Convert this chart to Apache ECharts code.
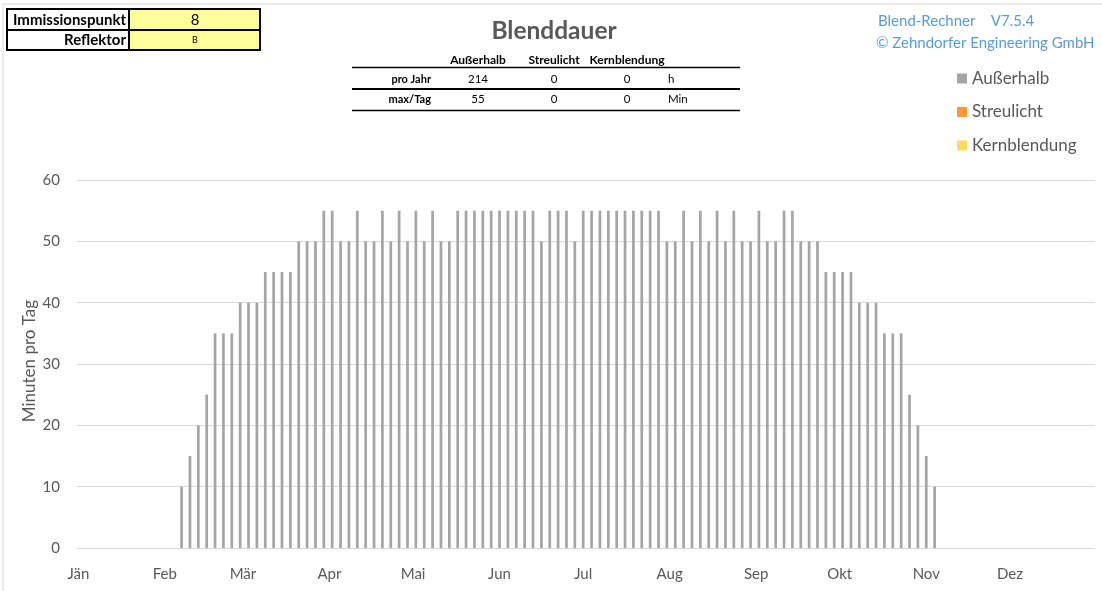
<!DOCTYPE html>
<html>
<head>
<meta charset="utf-8">
<title>Blenddauer</title>
<script src="https://cdn.jsdelivr.net/npm/echarts@6/dist/echarts.min.js"></script>
<style>
  html, body { margin: 0; padding: 0; background: #ffffff; }
  #chart { width: 1102px; height: 591px; }
</style>
</head>
<body>
<div id="chart"></div>
<script>
// Month names on the date axis and the month lengths of the year (365 days)
const monthLabels = ['Jän', 'Feb', 'Mär', 'Apr', 'Mai', 'Jun', 'Jul', 'Aug', 'Sep', 'Okt', 'Nov', 'Dez'];
const monthLengths = [31, 28, 31, 30, 31, 30, 31, 31, 30, 31, 30, 31];

// Sampled days (month-day) with glare duration outside the core, minutes per day
const sampleDays = [
  '02-07', '02-10', '02-13', '02-16', '02-19', '02-22', '02-25', '02-28',
  '03-03', '03-06', '03-09', '03-12', '03-15', '03-18', '03-21', '03-24', '03-27', '03-30',
  '04-02', '04-05', '04-08', '04-11', '04-14', '04-17', '04-20', '04-23', '04-26', '04-29',
  '05-02', '05-05', '05-08', '05-11', '05-14', '05-17', '05-20', '05-23', '05-26', '05-29',
  '06-01', '06-04', '06-07', '06-10', '06-13', '06-16', '06-19', '06-22', '06-25', '06-28',
  '07-01', '07-04', '07-07', '07-10', '07-13', '07-16', '07-19', '07-22', '07-25', '07-28', '07-31',
  '08-03', '08-06', '08-09', '08-12', '08-15', '08-18', '08-21', '08-24', '08-27', '08-30',
  '09-02', '09-05', '09-08', '09-11', '09-14', '09-17', '09-20', '09-23', '09-26', '09-29',
  '10-02', '10-05', '10-08', '10-11', '10-14', '10-17', '10-20', '10-23', '10-26', '10-29',
  '11-01', '11-04'
];
const ausserhalbMin = [
  10, 15, 20, 25, 35, 35, 35, 40,
  40, 40, 45, 45, 45, 45, 50, 50, 50, 55,
  55, 50, 50, 55, 50, 50, 55, 50, 55, 50,
  55, 50, 55, 50, 50, 55, 55, 55, 55, 55,
  55, 55, 55, 55, 55, 50, 55, 55, 55, 50,
  55, 55, 55, 55, 55, 55, 55, 55, 55, 55, 50,
  50, 55, 50, 55, 50, 55, 50, 55, 50, 50,
  55, 50, 50, 55, 55, 50, 50, 50, 45, 45,
  45, 45, 40, 40, 40, 35, 35, 35, 25, 20,
  15, 10
];
// Scattered light and core glare: no occurrences this year
const streulichtMin = [];
const kernblendungMin = [];

// Summary table figures
const summaryHeaders = ['Außerhalb', 'Streulicht', 'Kernblendung'];
const summaryRows = [
  { label: 'pro Jahr', values: ['214', '0', '0'], unit: 'h' },
  { label: 'max/Tag', values: ['55', '0', '0'], unit: 'Min' }
];

// Y axis scale
const yMin = 0, yMax = 60, yStep = 10;

// One category per calendar day
const dayCategories = [];
monthLengths.forEach((len, m) => {
  for (let d = 1; d <= len; d++) {
    dayCategories.push(String(m + 1).padStart(2, '0') + '-' + String(d).padStart(2, '0'));
  }
});
const ausserhalbSeries = dayCategories.map(() => null);
sampleDays.forEach((day, i) => {
  ausserhalbSeries[dayCategories.indexOf(day)] = ausserhalbMin[i];
});

const FONT = 'Lato, "Open Sans", sans-serif';
const TXT = '#595959';

// Header table (measurement point / reflector)
const infoTable = [
  { type: 'rect', shape: { x: 129, y: 9, width: 131, height: 41 }, style: { fill: '#FFFF99' }, silent: true },
  { type: 'rect', shape: { x: 7, y: 9, width: 253, height: 41 }, style: { fill: null, stroke: '#000', lineWidth: 2 }, silent: true },
  { type: 'line', shape: { x1: 7, y1: 30, x2: 260, y2: 30 }, style: { stroke: '#000', lineWidth: 2 }, silent: true },
  { type: 'line', shape: { x1: 129, y1: 9, x2: 129, y2: 50 }, style: { stroke: '#000', lineWidth: 2 }, silent: true },
  { type: 'text', x: 126, y: 20, style: { text: 'Immissionspunkt', font: 'bold 15px ' + FONT, fill: '#000', align: 'right', verticalAlign: 'middle' }, silent: true },
  { type: 'text', x: 195, y: 20, style: { text: '8', font: '15px ' + FONT, fill: '#000', align: 'center', verticalAlign: 'middle' }, silent: true },
  { type: 'text', x: 126, y: 40, style: { text: 'Reflektor', font: 'bold 15px ' + FONT, fill: '#000', align: 'right', verticalAlign: 'middle' }, silent: true },
  { type: 'text', x: 195, y: 40.5, style: { text: 'B', font: '9px ' + FONT, fill: '#000', align: 'center', verticalAlign: 'middle' }, silent: true }
];

// Summary table under the title
const colX = [478, 554, 627];
const summaryGraphics = [];
summaryHeaders.forEach((h, i) => {
  summaryGraphics.push({ type: 'text', x: colX[i], y: 60, style: { text: h, font: 'bold 12px ' + FONT, fill: '#000', align: 'center', verticalAlign: 'middle' }, silent: true });
});
summaryGraphics.push({ type: 'line', shape: { x1: 352, y1: 67.5, x2: 740, y2: 67.5 }, style: { stroke: '#000', lineWidth: 1.5 }, silent: true });
summaryGraphics.push({ type: 'line', shape: { x1: 352, y1: 89, x2: 740, y2: 89 }, style: { stroke: '#000', lineWidth: 2 }, silent: true });
summaryGraphics.push({ type: 'line', shape: { x1: 352, y1: 110.5, x2: 740, y2: 110.5 }, style: { stroke: '#000', lineWidth: 1.5 }, silent: true });
summaryRows.forEach((row, r) => {
  const y = 79 + r * 20.5;
  summaryGraphics.push({ type: 'text', x: 431, y: y, style: { text: row.label, font: 'bold 11px ' + FONT, fill: '#000', align: 'right', verticalAlign: 'middle' }, silent: true });
  row.values.forEach((v, i) => {
    summaryGraphics.push({ type: 'text', x: colX[i], y: y, style: { text: v, font: '11.5px ' + FONT, fill: '#000', align: 'center', verticalAlign: 'middle' }, silent: true });
  });
  summaryGraphics.push({ type: 'text', x: 668, y: y, style: { text: row.unit, font: '11.5px ' + FONT, fill: '#000', align: 'left', verticalAlign: 'middle' }, silent: true });
});

// Version note, y axis title and chart-area frame
const frameGraphics = [
  { type: 'rect', shape: { x: 3, y: 4, width: 1120, height: 620 }, style: { fill: null, stroke: '#D9D9D9', lineWidth: 1 }, silent: true, z: -10 },
  { type: 'text', x: 878, y: 21, style: { text: 'Blend-Rechner    V7.5.4', font: '15px ' + FONT, fill: '#5B9BD5', align: 'left', verticalAlign: 'middle' }, silent: true },
  { type: 'text', x: 876, y: 43, style: { text: '© Zehndorfer Engineering GmbH', font: '15px ' + FONT, fill: '#5B9BD5', align: 'left', verticalAlign: 'middle' }, silent: true },
  { type: 'text', x: 30, y: 361, rotation: Math.PI / 2, style: { text: 'Minuten pro Tag', font: '17px ' + FONT, fill: TXT, align: 'center', verticalAlign: 'middle' }, silent: true }
];

const chart = echarts.init(document.getElementById('chart'), null, { renderer: 'canvas' });
chart.setOption({
  animation: false,
  backgroundColor: '#ffffff',
  textStyle: { fontFamily: FONT },
  title: {
    text: 'Blenddauer',
    left: 554, top: 19,
    padding: 0,
    textAlign: 'center',
    textStyle: { fontFamily: FONT, fontSize: 24.5, fontWeight: 'bold', color: TXT }
  },
  legend: {
    orient: 'vertical',
    left: 957, top: 70,
    padding: 0,
    itemWidth: 10, itemHeight: 10,
    itemGap: 16.5,
    icon: 'rect',
    textStyle: { fontFamily: FONT, fontSize: 17, color: TXT, lineHeight: 17 },
    data: ['Außerhalb', 'Streulicht', 'Kernblendung']
  },
  grid: { left: 77, right: 7, top: 180, bottom: 43, containLabel: false },
  xAxis: {
    type: 'category',
    data: dayCategories,
    boundaryGap: true,
    axisLine: { show: true, lineStyle: { color: '#D9D9D9', width: 1 } },
    axisTick: { show: false },
    axisLabel: {
      interval: (index, value) => value.slice(3) === '01',
      formatter: (value) => monthLabels[parseInt(value.slice(0, 2), 10) - 1],
      color: TXT, fontFamily: FONT, fontSize: 15, margin: 19
    },
    splitLine: { show: false }
  },
  yAxis: {
    type: 'value',
    min: yMin, max: yMax, interval: yStep,
    axisLine: { show: false },
    axisTick: { show: false },
    axisLabel: { color: TXT, fontFamily: FONT, fontSize: 15, margin: 17 },
    splitLine: { lineStyle: { color: '#D9D9D9', width: 1 } }
  },
  series: [
    {
      name: 'Außerhalb', type: 'bar', stack: 'glare',
      data: ausserhalbSeries, barWidth: 2.7,
      itemStyle: { color: '#A5A5A5' }
    },
    {
      name: 'Streulicht', type: 'bar', stack: 'glare',
      data: streulichtMin, barWidth: 2.7,
      itemStyle: { color: '#FF9933' }
    },
    {
      name: 'Kernblendung', type: 'bar', stack: 'glare',
      data: kernblendungMin, barWidth: 2.7,
      itemStyle: { color: '#FFD966' }
    }
  ],
  graphic: [...frameGraphics, ...infoTable, ...summaryGraphics]
});
</script>
</body>
</html>
